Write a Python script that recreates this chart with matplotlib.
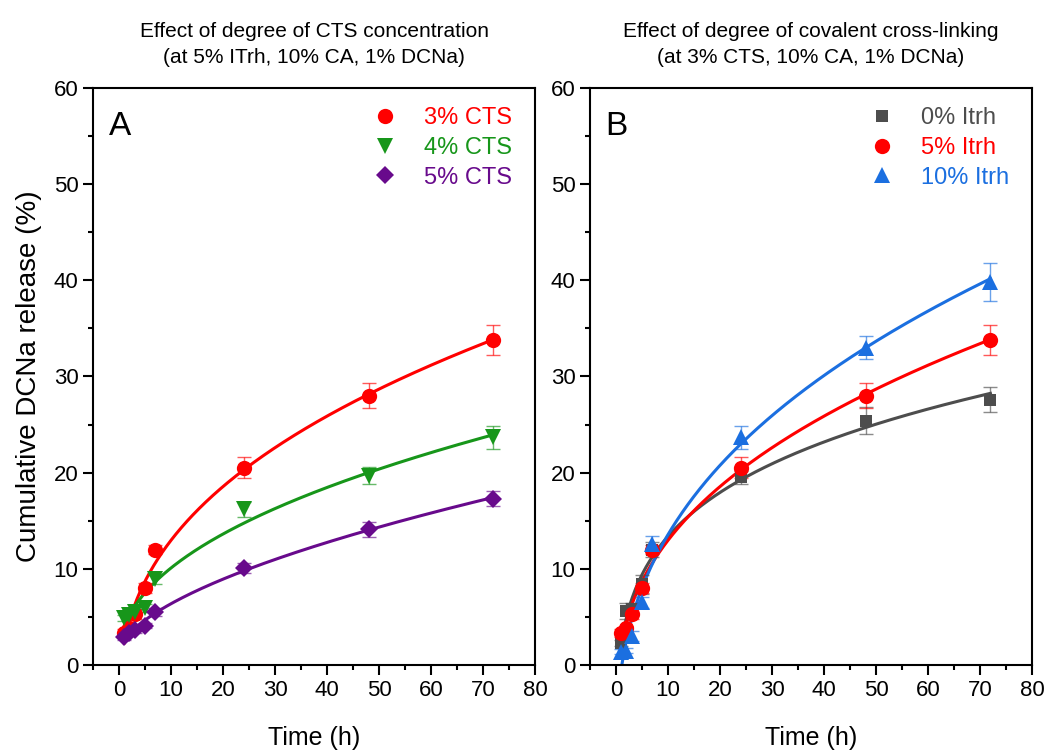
import numpy as np
import matplotlib
matplotlib.use("Agg")
import matplotlib.pyplot as plt
from matplotlib.ticker import MultipleLocator
from matplotlib.lines import Line2D

plt.rcParams['font.family'] = ['Liberation Sans', 'DejaVu Sans']

# ---------------- data ----------------
time_h = [1, 2, 3, 5, 7, 24, 48, 72]

# Panel A: effect of CTS concentration
cts3_y = [3.3, 3.8, 5.3, 8.0, 12.0, 20.5, 28.0, 33.8]
cts3_err = [0.4, 0.3, 0.5, 0.5, 0.5, 1.1, 1.3, 1.6]
cts4_y = [4.9, 5.2, 5.5, 5.9, 8.9, 16.2, 19.7, 23.7]
cts4_err = [0.3, 0.3, 0.3, 0.4, 0.5, 0.8, 0.9, 1.2]
cts5_y = [2.9, 3.3, 3.6, 4.1, 5.5, 10.1, 14.1, 17.3]
cts5_err = [0.3, 0.3, 0.3, 0.3, 0.4, 0.5, 0.8, 0.8]

# Panel B: effect of covalent cross-linking
itrh0_y = [2.3, 5.6, 5.8, 8.4, 12.0, 19.5, 25.4, 27.6]
itrh0_err = [0.3, 0.8, 0.6, 1.0, 0.8, 0.7, 1.4, 1.3]
itrh5_y = cts3_y
itrh5_err = cts3_err
itrh10_y = [1.4, 1.5, 3.0, 6.5, 12.6, 23.7, 33.0, 39.8]
itrh10_err = [0.3, 0.3, 0.5, 0.6, 0.8, 1.2, 1.2, 2.0]

labels_a = ['3% CTS', '4% CTS', '5% CTS']
labels_b = ['0% Itrh', '5% Itrh', '10% Itrh']
titles = ['Effect of degree of CTS concentration\n(at 5% ITrh, 10% CA, 1% DCNa)',
          'Effect of degree of covalent cross-linking\n(at 3% CTS, 10% CA, 1% DCNa)']

RED = '#ff0000'
GREEN = '#17961a'
PURPLE = '#680a8c'
GRAY = '#4d4d4d'
BLUE = '#1b6fe0'


def fit_power(t, y):
    """Least-squares fit of y = a + b*t**n (n by grid search, a, b linear)."""
    t = np.asarray(t, float)
    y = np.asarray(y, float)
    best = None
    for n in np.linspace(0.15, 1.2, 211):
        X = np.column_stack([np.ones_like(t), t ** n])
        coef, *_ = np.linalg.lstsq(X, y, rcond=None)
        sse = np.sum((X @ coef - y) ** 2)
        if best is None or sse < best[0]:
            best = (sse, coef, n)
    _, (a, b), n = best
    tt = np.linspace(1.0, 72, 400)
    yy = a + b * tt ** n
    keep = yy >= 0
    return tt[keep], yy[keep]


fig = plt.figure(figsize=(10.48, 7.51), dpi=100)
W, H = 1048, 751
axA = fig.add_axes([93 / W, 1 - 665 / H, (535 - 93) / W, (665 - 88) / H])
axB = fig.add_axes([590 / W, 1 - 665 / H, (1032 - 590) / W, (665 - 88) / H])

series_a = [(cts3_y, cts3_err, RED, 'o', labels_a[0], 11),
            (cts4_y, cts4_err, GREEN, 'v', labels_a[1], 11),
            (cts5_y, cts5_err, PURPLE, 'D', labels_a[2], 9)]
series_b = [(itrh0_y, itrh0_err, GRAY, 's', labels_b[0], 9),
            (itrh5_y, itrh5_err, RED, 'o', labels_b[1], 11),
            (itrh10_y, itrh10_err, BLUE, '^', labels_b[2], 11)]

for ax, series, letter, title in [(axA, series_a, 'A', titles[0]),
                                  (axB, series_b, 'B', titles[1])]:
    handles = []
    for y, err, col, mk, lab, ms in series:
        tt, yy = fit_power(time_h, y)
        ax.plot(tt, yy, color=col, lw=2.2, zorder=2)
        ax.errorbar(time_h, y, yerr=err, fmt='none', ecolor=col, elinewidth=1.0,
                    capsize=5, capthick=1.0, alpha=0.65, zorder=3)
        ax.plot(time_h, y, linestyle='none', marker=mk, color=col, markersize=ms,
                markeredgewidth=0, zorder=4)
        handles.append(Line2D([], [], linestyle='none', marker=mk, color=col,
                              markersize=ms, markeredgewidth=0, label=lab))
    leg = ax.legend(handles=handles, loc='upper right', frameon=False,
                    fontsize=17, handletextpad=0.85, labelspacing=0.32,
                    handlelength=1.6, bbox_to_anchor=(0.985, 0.995), borderaxespad=0.3)
    for txt, h in zip(leg.get_texts(), handles):
        txt.set_color(h.get_color())

    ax.set_xlim(-5, 80)
    ax.set_ylim(0, 60)
    ax.xaxis.set_major_locator(MultipleLocator(10))
    ax.xaxis.set_minor_locator(MultipleLocator(5))
    ax.yaxis.set_major_locator(MultipleLocator(10))
    ax.yaxis.set_minor_locator(MultipleLocator(5))
    ax.tick_params(which='both', direction='out', width=1.5, labelsize=16,
                   top=False, right=False)
    ax.tick_params(which='major', length=7)
    ax.tick_params(which='minor', length=3.5)
    for sp in ax.spines.values():
        sp.set_linewidth(1.5)
    ax.set_xlabel('Time (h)', fontsize=18, labelpad=18)
    ax.text(0.035, 0.96, letter, transform=ax.transAxes, fontsize=24,
            va='top', ha='left')
    ax.set_title(title, fontsize=15, pad=18, linespacing=1.45)

axA.set_ylabel('Cumulative DCNa release (%)', fontsize=20, labelpad=8)

fig.savefig('out.png', dpi=100)
